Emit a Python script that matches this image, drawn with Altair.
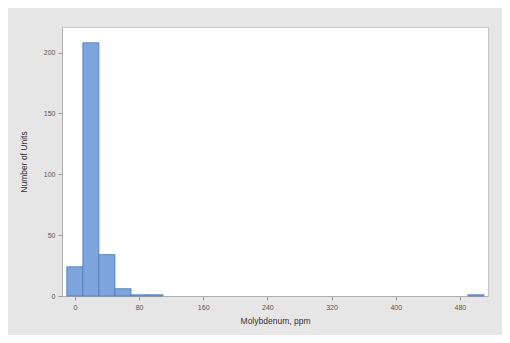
import altair as alt
import pandas as pd

bin_start = [-10, 10, 30, 50, 70, 90, 490]
bin_end = [10, 30, 50, 70, 90, 110, 510]
counts = [24, 208, 34, 6, 1, 1, 1]

x_ticks = [0, 80, 160, 240, 320, 400, 480]
y_ticks = [0, 50, 100, 150, 200]

df = pd.DataFrame({"start": bin_start, "end": bin_end, "count": counts})

chart = alt.Chart(df).mark_bar(
    color="#7ba5dc", stroke="#4d79b3", strokeWidth=0.8
).encode(
    x=alt.X("start:Q", scale=alt.Scale(domain=[-16, 515], nice=False, zero=False),
            axis=alt.Axis(values=x_ticks, title="Molybdenum, ppm", grid=False)),
    x2="end:Q",
    y=alt.Y("count:Q", scale=alt.Scale(domain=[0, 221], nice=False),
            axis=alt.Axis(values=y_ticks, title="Number of Units", grid=False)),
    y2=alt.Y2(datum=0),
).properties(
    width=426, height=269,
    autosize=alt.AutoSizeParams(type="none"),
    padding={"left": 54, "top": 19, "right": 14, "bottom": 39},
    background="#e6e6e6",
).configure_view(
    fill="white", stroke="#c8c8c8"
).configure_axis(
    labelFont="Liberation Sans", labelFontSize=7, labelColor="#555555",
    titleFont="Liberation Sans", titleFontSize=8.5, titleColor="#333333", titleFontWeight="normal",
    domainColor="#b0b0b0", tickColor="#999999", tickSize=4, labelPadding=3,
).configure_axisX(
    titlePadding=6, domain=True
).configure_axisY(
    titlePadding=15
)

chart.save("out.html", embed_options={"renderer": "svg", "actions": False})
